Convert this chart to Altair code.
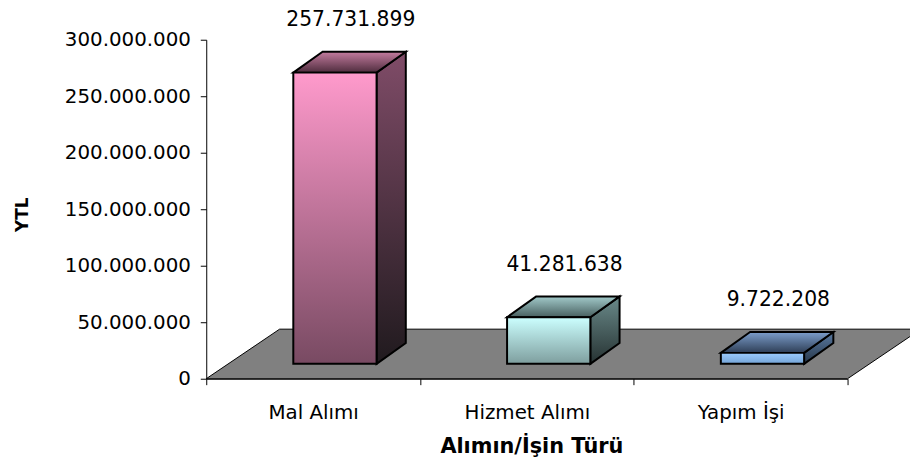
import json
import altair as alt
import pandas as pd

# ---------------- data ----------------
categories = ["Mal Alımı", "Hizmet Alımı", "Yapım İşi"]
values = [257731899, 41281638, 9722208]
y_ticks = [0, 50000000, 100000000, 150000000, 200000000, 250000000, 300000000]
x_title = "Alımın/İşin Türü"
y_title = "YTL"

# ---------------- layout / style ----------------
W, H = 647, 342
X_MAX = len(categories)
Y_MAX = y_ticks[-1]
PX_X = W / X_MAX
PX_Y = H / Y_MAX

FRONT_DX, FRONT_DY = 22, 15      # front face shift into the floor (px)
DEPTH_DX, DEPTH_DY = 29.5, 21    # bar depth (px)
HALF_W = 42                      # half bar width (px)
FLOOR_DX, FLOOR_DY = 74, 50      # floor depth (px)

FONT = "DejaVu Sans"

face_colors = {
    "Mal Alımı": {"front": ("#ff9acc", "#784a62"), "top": ("#c47c9f", "#4e2c3d"), "side": ("#804c68", "#201a1e")},
    "Hizmet Alımı": {"front": ("#ccffff", "#7e9e9e"), "top": ("#a2caca", "#486060"), "side": ("#6a8a8a", "#263232")},
    "Yapım İşi": {"front": ("#9cccff", "#74a4d6"), "top": ("#7c9ecb", "#2e3e56"), "side": ("#5a7aa2", "#263648")},
}


def ux(px):
    return px / PX_X


def uy(px):
    return px / PX_Y


def grad(top, bottom):
    return {"gradient": "linear", "x1": 0, "y1": 0, "x2": 0, "y2": 1,
            "stops": [{"offset": 0, "color": top}, {"offset": 1, "color": bottom}]}


# ---------------- geometry tables (from the data) ----------------
front_rows, top_rows, side_rows = [], [], []
for i, (c, v) in enumerate(zip(categories, values)):
    cx = i + 0.5
    L = cx + ux(FRONT_DX - HALF_W)
    R = cx + ux(FRONT_DX + HALF_W)
    b = uy(FRONT_DY)
    t = v + b
    dx, dy = ux(DEPTH_DX), uy(DEPTH_DY)
    front_rows.append(dict(cat=c, x=L, x2=R, y=b, y2=t))
    top_rows += [dict(cat=c, y=t, x=L, x2=R), dict(cat=c, y=t + dy, x=L + dx, x2=R + dx)]
    side_rows += [dict(cat=c, x=R, y=b, y2=t), dict(cat=c, x=R + dx, y=b + dy, y2=t + dy)]

front_df = pd.DataFrame(front_rows)
top_df = pd.DataFrame(top_rows)
side_df = pd.DataFrame(side_rows)
floor_df = pd.DataFrame([
    dict(y=0, x=0, x2=X_MAX),
    dict(y=uy(FLOOR_DY), x=ux(FLOOR_DX), x2=X_MAX + ux(FLOOR_DX)),
])
label_df = pd.DataFrame(dict(
    cat=categories,
    x=[i + 0.5 for i in range(len(categories))],
    y=values,
    text=[f"{v:,}".replace(",", ".") for v in values],
))

# ---------------- scales / axes ----------------
xscale = alt.Scale(domain=[0, X_MAX], nice=False, zero=False)
yscale = alt.Scale(domain=[0, Y_MAX], nice=False)

names_js = json.dumps(categories, ensure_ascii=False)
x_vals = [k / 2 for k in range(2 * X_MAX + 1)]
xaxis = alt.Axis(
    values=x_vals,
    labelExpr=f"datum.value % 1 ? {names_js}[floor(datum.value)] : ''",
    tickOpacity={"condition": {"test": "datum.value % 1 === 0", "value": 1}, "value": 0},
    tickSize=6, tickColor="black", domainColor="black", grid=False,
    labelFont=FONT, labelFontSize=20, labelColor="black", labelPadding=18,
    labelFlush=False, labelOverlap=False, labelBound=False,
    title=x_title, titleFont=FONT, titleFontSize=21, titleFontWeight="bold", titleColor="black",
    titleX=328, titleY=74, titleBaseline="alphabetic", titleAlign="center",
)
yaxis = alt.Axis(
    values=y_ticks,
    labelExpr="replace(format(datum.value, ','), regexp(',', 'g'), '.')",
    tickSize=6, tickColor="black", domainColor="black", grid=False,
    labelFont=FONT, labelFontSize=20, labelColor="black", labelPadding=10,
    title=y_title, titleFont=FONT, titleFontSize=17, titleFontWeight="bold", titleColor="black",
    titleX=-185, titleY=176, titleAngle=270, titleBaseline="middle", titleAlign="center",
)


def X(f):
    return alt.X(f, type="quantitative", scale=xscale, axis=xaxis)


def Y(f):
    return alt.Y(f, type="quantitative", scale=yscale, axis=yaxis)


layers = [
    alt.Chart(floor_df).mark_area(orient="horizontal", fill="#808080", stroke="black", strokeWidth=1)
    .encode(y=Y("y"), x=X("x"), x2="x2")
]
for c in categories:
    col = face_colors[c]
    layers.append(
        alt.Chart(side_df[side_df.cat == c]).mark_area(
            orient="vertical", fill=grad(*col["side"]), stroke="black", strokeWidth=2)
        .encode(x=X("x"), y=Y("y"), y2="y2")
    )
    layers.append(
        alt.Chart(top_df[top_df.cat == c]).mark_area(
            orient="horizontal", fill=grad(*col["top"]), stroke="black", strokeWidth=2)
        .encode(y=Y("y"), x=X("x"), x2="x2")
    )
    layers.append(
        alt.Chart(front_df[front_df.cat == c]).mark_rect(
            fill=grad(*col["front"]), stroke="black", strokeWidth=2)
        .encode(x=X("x"), x2="x2", y=Y("y"), y2="y2")
    )

layers.append(
    alt.Chart(label_df).mark_text(font=FONT, fontSize=20.5, color="black", dx=38, dy=-68,
                                  baseline="middle", align="center")
    .encode(x=X("x"), y=Y("y"), text="text")
)

chart = alt.layer(*layers).properties(
    width=W, height=H,
    autosize=alt.AutoSizeParams(type="none"),
    padding={"left": 200, "top": 30, "right": 63, "bottom": 82},
    background="white",
).configure_view(stroke=None)

chart.save("out.html", embed_options={"renderer": "svg", "actions": False})
